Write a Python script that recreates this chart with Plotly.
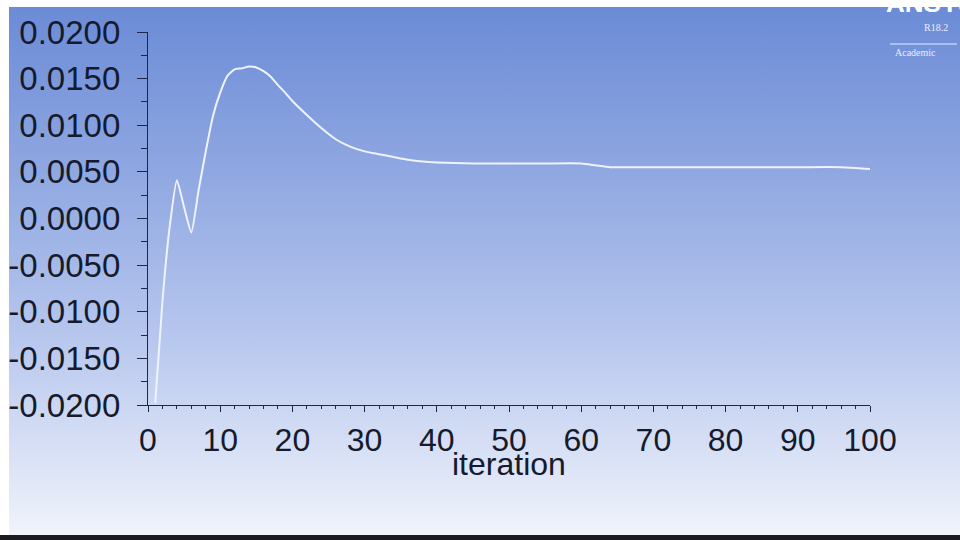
import base64
import plotly.graph_objects as go

# Monitored quantity vs. solver iteration
iterations = [1, 2, 3, 4, 5, 6, 7, 8, 9, 10, 11, 12, 13, 14, 15, 16, 17, 18, 19, 20,
              22, 24, 26, 28, 30, 32, 34, 36, 38, 40, 45, 50, 55, 60, 62, 64,
              70, 80, 90, 96, 100]
values = [-0.0198, -0.0089, -0.0009, 0.0041, 0.0012, -0.0015, 0.0030, 0.0072, 0.0110, 0.0135,
          0.0153, 0.0160, 0.0161, 0.0163, 0.0162, 0.0158, 0.0152, 0.0143, 0.0135, 0.0126,
          0.0111, 0.0097, 0.0085, 0.0077, 0.0072, 0.0069, 0.0066, 0.0063, 0.0061, 0.0060,
          0.0059, 0.0059, 0.0059, 0.0059, 0.0057, 0.0055,
          0.0055, 0.0055, 0.0055, 0.0055, 0.0053]

y_tickvals = [-0.02, -0.015, -0.01, -0.005, 0.0, 0.005, 0.01, 0.015, 0.02]
y_ticktext = ["-0.0200", "-0.0150", "-0.0100", "-0.0050", "0.0000",
              "0.0050", "0.0100", "0.0150", "0.0200"]
x_tickvals = [0, 10, 20, 30, 40, 50, 60, 70, 80, 90, 100]
x_ticktext = [str(v) for v in x_tickvals]

W, H = 960, 540
L, R, T, B = 148, 90, 32, 135
PW, PH = W - L - R, H - T - B


def px_to_paper_x(px):
    return (px - L) / PW


def px_to_paper_y(py):
    return (H - B - py) / PH


# vertical blue-to-white backdrop as an inline SVG
svg = (
    '<svg xmlns="http://www.w3.org/2000/svg" width="100" height="100" preserveAspectRatio="none">'
    '<defs><linearGradient id="g" x1="0" y1="0" x2="0" y2="1">'
    '<stop offset="0" stop-color="#6b8bd6"/>'
    '<stop offset="0.35" stop-color="#94abe3"/>'
    '<stop offset="0.62" stop-color="#b6c6ed"/>'
    '<stop offset="1" stop-color="#f0f3fb"/>'
    '</linearGradient></defs>'
    '<rect width="100" height="100" fill="url(#g)"/></svg>'
)
svg_uri = "data:image/svg+xml;base64," + base64.b64encode(svg.encode()).decode()

axis_color = "#1c2846"
text_color = "#151a2c"
font_family = "Liberation Sans, Arial, sans-serif"

fig = go.Figure()
fig.add_trace(go.Scatter(
    x=iterations, y=values, mode="lines",
    line=dict(color="#eef3ff", width=2, shape="spline", smoothing=0.5),
    showlegend=False, hoverinfo="x+y",
))

fig.update_layout(
    width=W, height=H,
    margin=dict(l=L, r=R, t=T, b=B, pad=0, autoexpand=False),
    paper_bgcolor="white",
    plot_bgcolor="rgba(0,0,0,0)",
    font=dict(family=font_family, color=text_color, size=32),
    images=[dict(
        source=svg_uri, xref="paper", yref="paper",
        x=px_to_paper_x(9), y=px_to_paper_y(7),
        sizex=(W - 9) / PW, sizey=(535 - 7) / PH,
        xanchor="left", yanchor="top", sizing="stretch", layer="below",
    )],
    shapes=[dict(
        type="rect", xref="paper", yref="paper",
        x0=px_to_paper_x(0), x1=px_to_paper_x(W),
        y0=px_to_paper_y(535), y1=px_to_paper_y(H + 2),
        fillcolor="#1b1b1f", line=dict(width=0), layer="above",
    )],
    xaxis=dict(
        range=[0, 100], showgrid=False, zeroline=False, automargin=False,
        showline=True, linecolor=axis_color, linewidth=1.3,
        tickmode="array", tickvals=x_tickvals, ticktext=x_ticktext,
        ticks="outside", ticklen=6, tickcolor=axis_color, tickwidth=1,
        tickfont=dict(size=32, color=text_color, family=font_family),
        minor=dict(dtick=2, tick0=0, ticks="outside", ticklen=3, tickcolor=axis_color),
    ),
    yaxis=dict(
        range=[-0.02, 0.02], showgrid=False, zeroline=False, automargin=False,
        showline=True, linecolor=axis_color, linewidth=1.3,
        tickmode="array", tickvals=y_tickvals, ticktext=y_ticktext,
        ticks="outside", ticklen=10, tickcolor=axis_color, tickwidth=1.2,
        ticklabelstandoff=10,
        tickfont=dict(size=33, color=text_color, family=font_family),
        minor=dict(dtick=0.0025, tick0=0, ticks="outside", ticklen=6, tickcolor=axis_color),
    ),
    annotations=[
        dict(text="iteration", xref="paper", yref="paper",
             x=0.5, y=px_to_paper_y(464), xanchor="center", yanchor="middle",
             showarrow=False, font=dict(size=32, color=text_color, family=font_family)),
        dict(text="<b>ANSYS</b>", xref="paper", yref="paper",
             x=px_to_paper_x(884), y=px_to_paper_y(20), xanchor="left", yanchor="bottom",
             showarrow=False, font=dict(size=26, color="white", family=font_family)),
        dict(text="R18.2", xref="paper", yref="paper",
             x=px_to_paper_x(922), y=px_to_paper_y(28), xanchor="left", yanchor="middle",
             showarrow=False, font=dict(size=10, color="#e8eeff", family="Liberation Serif, serif")),
        dict(text="Academic", xref="paper", yref="paper",
             x=px_to_paper_x(893), y=px_to_paper_y(52), xanchor="left", yanchor="middle",
             showarrow=False, font=dict(size=10, color="#e8eeff", family="Liberation Serif, serif")),
    ],
)

# thin rule over the "Academic" tag
fig.add_shape(type="line", xref="paper", yref="paper",
              x0=px_to_paper_x(890), x1=px_to_paper_x(957),
              y0=px_to_paper_y(44), y1=px_to_paper_y(44),
              line=dict(color="#e8eeff", width=1))

fig.write_html("out.html")
